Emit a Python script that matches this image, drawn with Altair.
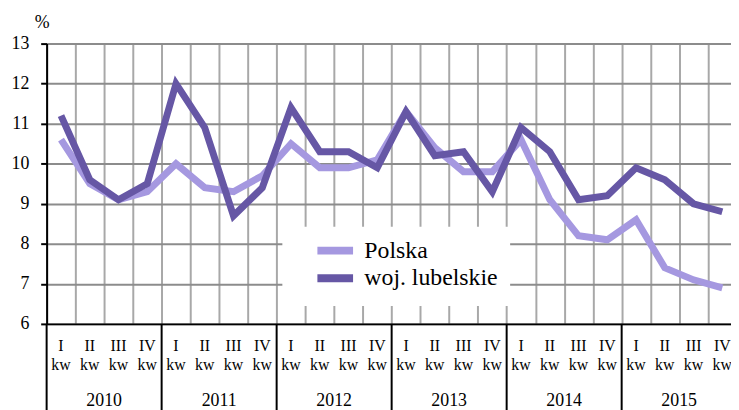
import altair as alt
import pandas as pd

quarters = ["I", "II", "III", "IV"]
years = ["2010", "2011", "2012", "2013", "2014", "2015"]
series_names = ["Polska", "woj. lubelskie"]
polska = [10.6, 9.5, 9.1, 9.3,
          10.0, 9.4, 9.3, 9.7,
          10.5, 9.9, 9.9, 10.1,
          11.3, 10.4, 9.8, 9.8,
          10.6, 9.1, 8.2, 8.1,
          8.6, 7.4, 7.1, 6.9]
lubelskie = [11.2, 9.6, 9.1, 9.5,
             12.0, 10.9, 8.7, 9.4,
             11.4, 10.3, 10.3, 9.9,
             11.3, 10.2, 10.3, 9.3,
             10.9, 10.3, 9.1, 9.2,
             9.9, 9.6, 9.0, 8.8]
y_ticks = [6, 7, 8, 9, 10, 11, 12, 13]

n = len(polska)
rows = []
for i in range(n):
    rows.append({"pos": i + 0.5, "value": polska[i], "series": series_names[0]})
    rows.append({"pos": i + 0.5, "value": lubelskie[i], "series": series_names[1]})
df = pd.DataFrame(rows)

qdf = pd.DataFrame({"pos": [i + 0.5 for i in range(n)],
                    "q": [quarters[i % 4] for i in range(n)],
                    "kw": ["kw"] * n})
ydf = pd.DataFrame({"pos": [4 * j + 2 for j in range(len(years))], "year": years})
sdf = pd.DataFrame({"pos": [4 * j for j in range(len(years))]})

W = 691
H = 283
QW = 29.03
FONT = "Liberation Serif, Times New Roman, serif"

xscale = alt.Scale(domain=[0, W / QW], nice=False, zero=False)
yscale = alt.Scale(domain=[6, 13], nice=False, zero=False)
xaxis = alt.Axis(values=list(range(0, 25)), grid=True, labels=False, ticks=False,
                 domain=True, domainColor="black", domainWidth=2,
                 gridColor="#a8a8a8", gridWidth=2, title=None)


def xenc():
    return alt.X("pos:Q", scale=xscale, axis=xaxis)


lines = alt.Chart(df).mark_line(strokeWidth=7).encode(
    x=xenc(),
    y=alt.Y("value:Q", scale=yscale,
            axis=alt.Axis(values=y_ticks, grid=True, gridColor="#8c8c8c", gridWidth=2,
                          domainColor="black", domainWidth=2, tickColor="black",
                          tickWidth=2, tickSize=6, labelFont=FONT, labelFontSize=18,
                          labelColor="black", labelPadding=12,
                          title="%", titleAngle=0, titleX=-5, titleY=-21,
                          titleAlign="center", titleBaseline="middle", titleFont=FONT,
                          titleFontSize=18, titleFontWeight="normal", titleColor="black")),
    color=alt.Color("series:N",
                    scale=alt.Scale(domain=series_names, range=["#A598E0", "#6657A5"]),
                    legend=alt.Legend(title=None, orient="none", legendX=238, legendY=185,
                                      fillColor="white", padding=12, symbolOffset=29.4,
                                      symbolType="M-5,0L5,0", symbolSize=51.84,
                                      symbolStrokeWidth=8, labelFont=FONT,
                                      labelFontSize=24, labelColor="black",
                                      labelOffset=17.4, rowPadding=-4)),
)

seps = alt.Chart(sdf).mark_rule(color="black", strokeWidth=2).encode(
    x=xenc(), y=alt.value(H), y2=alt.value(H + 90))

qtext = alt.Chart(qdf).mark_text(font=FONT, fontSize=16, color="black",
                                 baseline="middle", align="center").encode(
    x=xenc(), y=alt.value(305), text="q:N")
kwtext = alt.Chart(qdf).mark_text(font=FONT, fontSize=16, color="black",
                                  baseline="middle", align="center").encode(
    x=xenc(), y=alt.value(324.5), text="kw:N")
ytext = alt.Chart(ydf).mark_text(font=FONT, fontSize=18, color="black",
                                 baseline="middle", align="center").encode(
    x=xenc(), y=alt.value(361), text="year:N")

chart = alt.layer(lines, seps, qtext, kwtext, ytext).properties(
    width=W, height=H,
    padding={"left": 39, "top": 34, "right": 0, "bottom": 85},
    autosize=alt.AutoSizeParams(type="none"),
    background="white",
).configure_view(stroke=None)

chart.save("out.html", embed_options={"renderer": "svg", "actions": False})
